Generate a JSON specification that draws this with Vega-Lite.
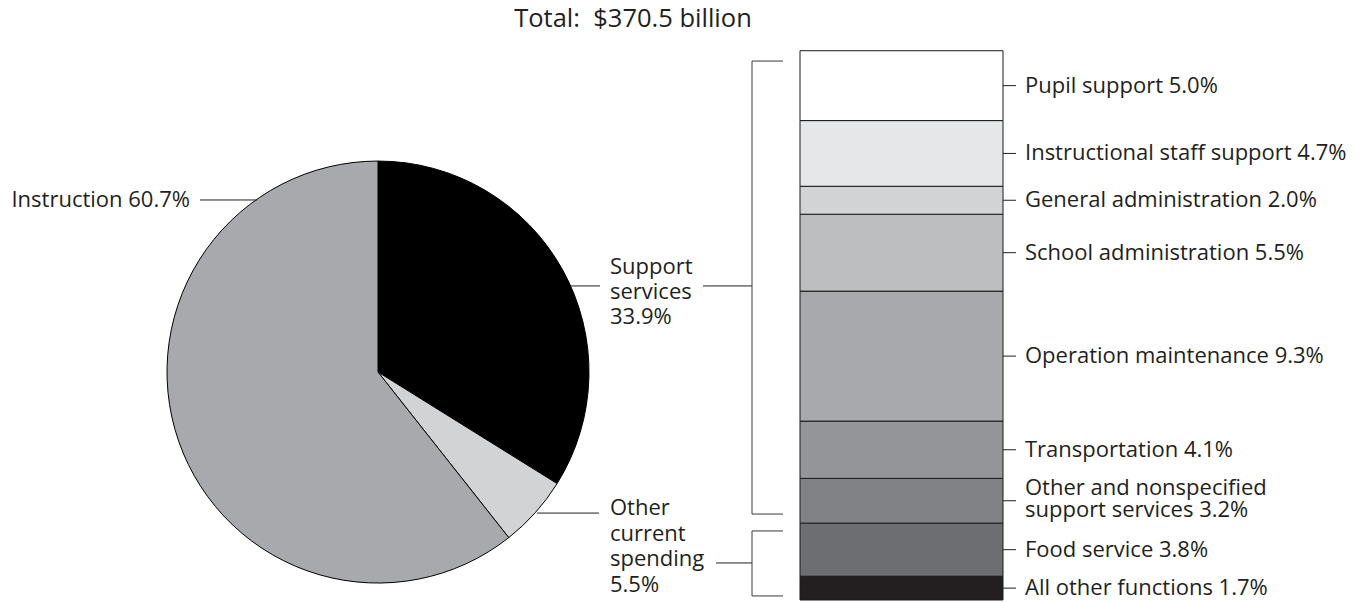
{
  "$schema": "https://vega.github.io/schema/vega-lite/v6.json",
  "autosize": {"type": "none"},
  "width": 1369,
  "height": 602,
  "padding": 0,
  "background": "#ffffff",
  "config": {"view": {"stroke": null}, "text": {"font": "Open Sans", "fontSize": 22, "color": "#231f20"}},
  "data": {"values": [{}]},
  "resolve": {"scale": {"color": "independent"}},
  "layer": [
    {
      "data": {"values": [
        {"slice": "Support services", "pct": 33.9, "ord": 1},
        {"slice": "Other current spending", "pct": 5.5, "ord": 2},
        {"slice": "Instruction", "pct": 60.7, "ord": 3}
      ]},
      "mark": {"type": "arc", "outerRadius": 211, "stroke": "#000000", "strokeWidth": 1},
      "encoding": {
        "theta": {"field": "pct", "type": "quantitative", "stack": true},
        "order": {"field": "ord", "type": "quantitative"},
        "color": {"field": "slice", "type": "nominal", "legend": null,
          "scale": {"domain": ["Support services", "Other current spending", "Instruction"], "range": ["#000000", "#d1d3d4", "#a7a9ac"]}},
        "x": {"datum": 378, "type": "quantitative", "scale": {"domain": [0, 1369], "nice": false, "zero": false}, "axis": null},
        "y": {"datum": 16.31, "type": "quantitative", "scale": {"domain": [-0.143, 42.928], "nice": false, "zero": false}, "axis": null}
      }
    },
    {
      "data": {"name": "bars", "values": [
        {"item": "All other functions", "pct": 1.7, "ord": 1, "label": "All other functions 1.7%"},
        {"item": "Food service", "pct": 3.8, "ord": 2, "label": "Food service 3.8%"},
        {"item": "Other and nonspecified support services", "pct": 3.2, "ord": 3, "label": "Other and nonspecified\nsupport services 3.2%"},
        {"item": "Transportation", "pct": 4.1, "ord": 4, "label": "Transportation 4.1%"},
        {"item": "Operation maintenance", "pct": 9.3, "ord": 5, "label": "Operation maintenance 9.3%"},
        {"item": "School administration", "pct": 5.5, "ord": 6, "label": "School administration 5.5%"},
        {"item": "General administration", "pct": 2.0, "ord": 7, "label": "General administration 2.0%"},
        {"item": "Instructional staff support", "pct": 4.7, "ord": 8, "label": "Instructional staff support 4.7%"},
        {"item": "Pupil support", "pct": 5.0, "ord": 9, "label": "Pupil support 5.0%"}
      ]},
      "layer": [
        {
          "transform": [{"stack": "pct", "groupby": [], "sort": [{"field": "ord", "order": "ascending"}], "as": ["y0", "y1"]}],
          "mark": {"type": "bar", "stroke": "#1a1a1a", "strokeWidth": 1},
          "encoding": {
            "x": {"datum": 800, "type": "quantitative", "scale": {"domain": [0, 1369], "nice": false, "zero": false}, "axis": null},
            "x2": {"datum": 1003},
            "y": {"field": "y0", "type": "quantitative", "scale": {"domain": [-0.143, 42.928], "nice": false, "zero": false}, "axis": null},
            "y2": {"field": "y1"},
            "color": {"field": "item", "type": "nominal", "legend": null,
              "scale": {"domain": ["All other functions", "Food service", "Other and nonspecified support services", "Transportation", "Operation maintenance", "School administration", "General administration", "Instructional staff support", "Pupil support"],
                "range": ["#231f20", "#6d6e71", "#808285", "#939598", "#a7a9ac", "#bcbec0", "#d1d3d4", "#e6e7e8", "#ffffff"]}}
          }
        },
        {
          "mark": {"type": "rule", "color": "#231f20", "strokeWidth": 1},
          "encoding": {
            "x": {"datum": 1003, "type": "quantitative", "scale": {"domain": [0, 1369], "nice": false, "zero": false}, "axis": null},
            "x2": {"datum": 1016},
            "y": {"field": "pct", "type": "quantitative", "stack": "zero", "bandPosition": 0.5, "scale": {"domain": [-0.143, 42.928], "nice": false, "zero": false}, "axis": null},
            "order": {"field": "ord", "type": "quantitative"}
          }
        },
        {
          "mark": {"type": "text", "align": "left", "baseline": "middle"},
          "encoding": {
            "x": {"datum": 1025, "type": "quantitative", "scale": {"domain": [0, 1369], "nice": false, "zero": false}, "axis": null},
            "y": {"field": "pct", "type": "quantitative", "stack": "zero", "bandPosition": 0.5, "scale": {"domain": [-0.143, 42.928], "nice": false, "zero": false}, "axis": null},
            "order": {"field": "ord", "type": "quantitative"},
            "text": {"condition": {"test": "datum.ord != 3", "field": "label"}, "value": ""}
          }
        },
        {
          "mark": {"type": "text", "align": "left", "baseline": "middle", "lineBreak": "\n", "lineHeight": 22, "dy": -13},
          "encoding": {
            "x": {"datum": 1025, "type": "quantitative", "scale": {"domain": [0, 1369], "nice": false, "zero": false}, "axis": null},
            "y": {"field": "pct", "type": "quantitative", "stack": "zero", "bandPosition": 0.5, "scale": {"domain": [-0.143, 42.928], "nice": false, "zero": false}, "axis": null},
            "order": {"field": "ord", "type": "quantitative"},
            "text": {"condition": {"test": "datum.ord == 3", "field": "label"}, "value": ""}
          }
        }
      ]
    },
    {
      "mark": {"type": "text", "align": "center", "baseline": "middle", "fontSize": 25.5, "text": "Total:\u00a0 $370.5 billion"},
      "encoding": {
        "x": {"datum": 633, "type": "quantitative", "scale": {"domain": [0, 1369], "nice": false, "zero": false}, "axis": null},
        "y": {"datum": 41.6, "type": "quantitative", "scale": {"domain": [-0.143, 42.928], "nice": false, "zero": false}, "axis": null}
      }
    },
    {
      "mark": {"type": "text", "align": "right", "baseline": "middle", "text": "Instruction 60.7%"},
      "encoding": {
        "x": {"datum": 190, "type": "quantitative", "scale": {"domain": [0, 1369], "nice": false, "zero": false}, "axis": null},
        "y": {"datum": 28.62, "type": "quantitative", "scale": {"domain": [-0.143, 42.928], "nice": false, "zero": false}, "axis": null}
      }
    },
    {
      "mark": {"type": "text", "align": "left", "baseline": "middle", "lineHeight": 25, "text": ["Support", "services", "33.9%"]},
      "encoding": {
        "x": {"datum": 610, "type": "quantitative", "scale": {"domain": [0, 1369], "nice": false, "zero": false}, "axis": null},
        "y": {"datum": 23.82, "type": "quantitative", "scale": {"domain": [-0.143, 42.928], "nice": false, "zero": false}, "axis": null}
      }
    },
    {
      "mark": {"type": "text", "align": "left", "baseline": "middle", "lineHeight": 25.5, "text": ["Other", "current", "spending", "5.5%"]},
      "encoding": {
        "x": {"datum": 610, "type": "quantitative", "scale": {"domain": [0, 1369], "nice": false, "zero": false}, "axis": null},
        "y": {"datum": 6.58, "type": "quantitative", "scale": {"domain": [-0.143, 42.928], "nice": false, "zero": false}, "axis": null}
      }
    },
    {"mark": {"type": "rule", "color": "#231f20", "strokeWidth": 1},
     "encoding": {"x": {"datum": 200, "type": "quantitative", "scale": {"domain": [0, 1369], "nice": false, "zero": false}, "axis": null}, "x2": {"datum": 257},
       "y": {"datum": 28.62, "type": "quantitative", "scale": {"domain": [-0.143, 42.928], "nice": false, "zero": false}, "axis": null}}},
    {"mark": {"type": "rule", "color": "#231f20", "strokeWidth": 1},
     "encoding": {"x": {"datum": 571, "type": "quantitative", "scale": {"domain": [0, 1369], "nice": false, "zero": false}, "axis": null}, "x2": {"datum": 600},
       "y": {"datum": 22.47, "type": "quantitative", "scale": {"domain": [-0.143, 42.928], "nice": false, "zero": false}, "axis": null}}},
    {"mark": {"type": "rule", "color": "#231f20", "strokeWidth": 1},
     "encoding": {"x": {"datum": 703, "type": "quantitative", "scale": {"domain": [0, 1369], "nice": false, "zero": false}, "axis": null}, "x2": {"datum": 752},
       "y": {"datum": 22.47, "type": "quantitative", "scale": {"domain": [-0.143, 42.928], "nice": false, "zero": false}, "axis": null}}},
    {"mark": {"type": "rule", "color": "#3a3a3a", "strokeWidth": 1},
     "encoding": {"x": {"datum": 752, "type": "quantitative", "scale": {"domain": [0, 1369], "nice": false, "zero": false}, "axis": null},
       "y": {"datum": 6.15, "type": "quantitative", "scale": {"domain": [-0.143, 42.928], "nice": false, "zero": false}, "axis": null}, "y2": {"datum": 38.56}}},
    {"mark": {"type": "rule", "color": "#3a3a3a", "strokeWidth": 1},
     "encoding": {"x": {"datum": 752, "type": "quantitative", "scale": {"domain": [0, 1369], "nice": false, "zero": false}, "axis": null}, "x2": {"datum": 783},
       "y": {"datum": 38.56, "type": "quantitative", "scale": {"domain": [-0.143, 42.928], "nice": false, "zero": false}, "axis": null}}},
    {"mark": {"type": "rule", "color": "#3a3a3a", "strokeWidth": 1},
     "encoding": {"x": {"datum": 752, "type": "quantitative", "scale": {"domain": [0, 1369], "nice": false, "zero": false}, "axis": null}, "x2": {"datum": 783},
       "y": {"datum": 6.15, "type": "quantitative", "scale": {"domain": [-0.143, 42.928], "nice": false, "zero": false}, "axis": null}}},
    {"mark": {"type": "rule", "color": "#231f20", "strokeWidth": 1},
     "encoding": {"x": {"datum": 537, "type": "quantitative", "scale": {"domain": [0, 1369], "nice": false, "zero": false}, "axis": null}, "x2": {"datum": 599},
       "y": {"datum": 6.22, "type": "quantitative", "scale": {"domain": [-0.143, 42.928], "nice": false, "zero": false}, "axis": null}}},
    {"mark": {"type": "rule", "color": "#231f20", "strokeWidth": 1},
     "encoding": {"x": {"datum": 716, "type": "quantitative", "scale": {"domain": [0, 1369], "nice": false, "zero": false}, "axis": null}, "x2": {"datum": 752},
       "y": {"datum": 2.65, "type": "quantitative", "scale": {"domain": [-0.143, 42.928], "nice": false, "zero": false}, "axis": null}}},
    {"mark": {"type": "rule", "color": "#3a3a3a", "strokeWidth": 1},
     "encoding": {"x": {"datum": 752, "type": "quantitative", "scale": {"domain": [0, 1369], "nice": false, "zero": false}, "axis": null},
       "y": {"datum": 0.29, "type": "quantitative", "scale": {"domain": [-0.143, 42.928], "nice": false, "zero": false}, "axis": null}, "y2": {"datum": 4.94}}},
    {"mark": {"type": "rule", "color": "#3a3a3a", "strokeWidth": 1},
     "encoding": {"x": {"datum": 752, "type": "quantitative", "scale": {"domain": [0, 1369], "nice": false, "zero": false}, "axis": null}, "x2": {"datum": 783},
       "y": {"datum": 4.94, "type": "quantitative", "scale": {"domain": [-0.143, 42.928], "nice": false, "zero": false}, "axis": null}}},
    {"mark": {"type": "rule", "color": "#3a3a3a", "strokeWidth": 1},
     "encoding": {"x": {"datum": 752, "type": "quantitative", "scale": {"domain": [0, 1369], "nice": false, "zero": false}, "axis": null}, "x2": {"datum": 783},
       "y": {"datum": 0.29, "type": "quantitative", "scale": {"domain": [-0.143, 42.928], "nice": false, "zero": false}, "axis": null}}}
  ]
}
